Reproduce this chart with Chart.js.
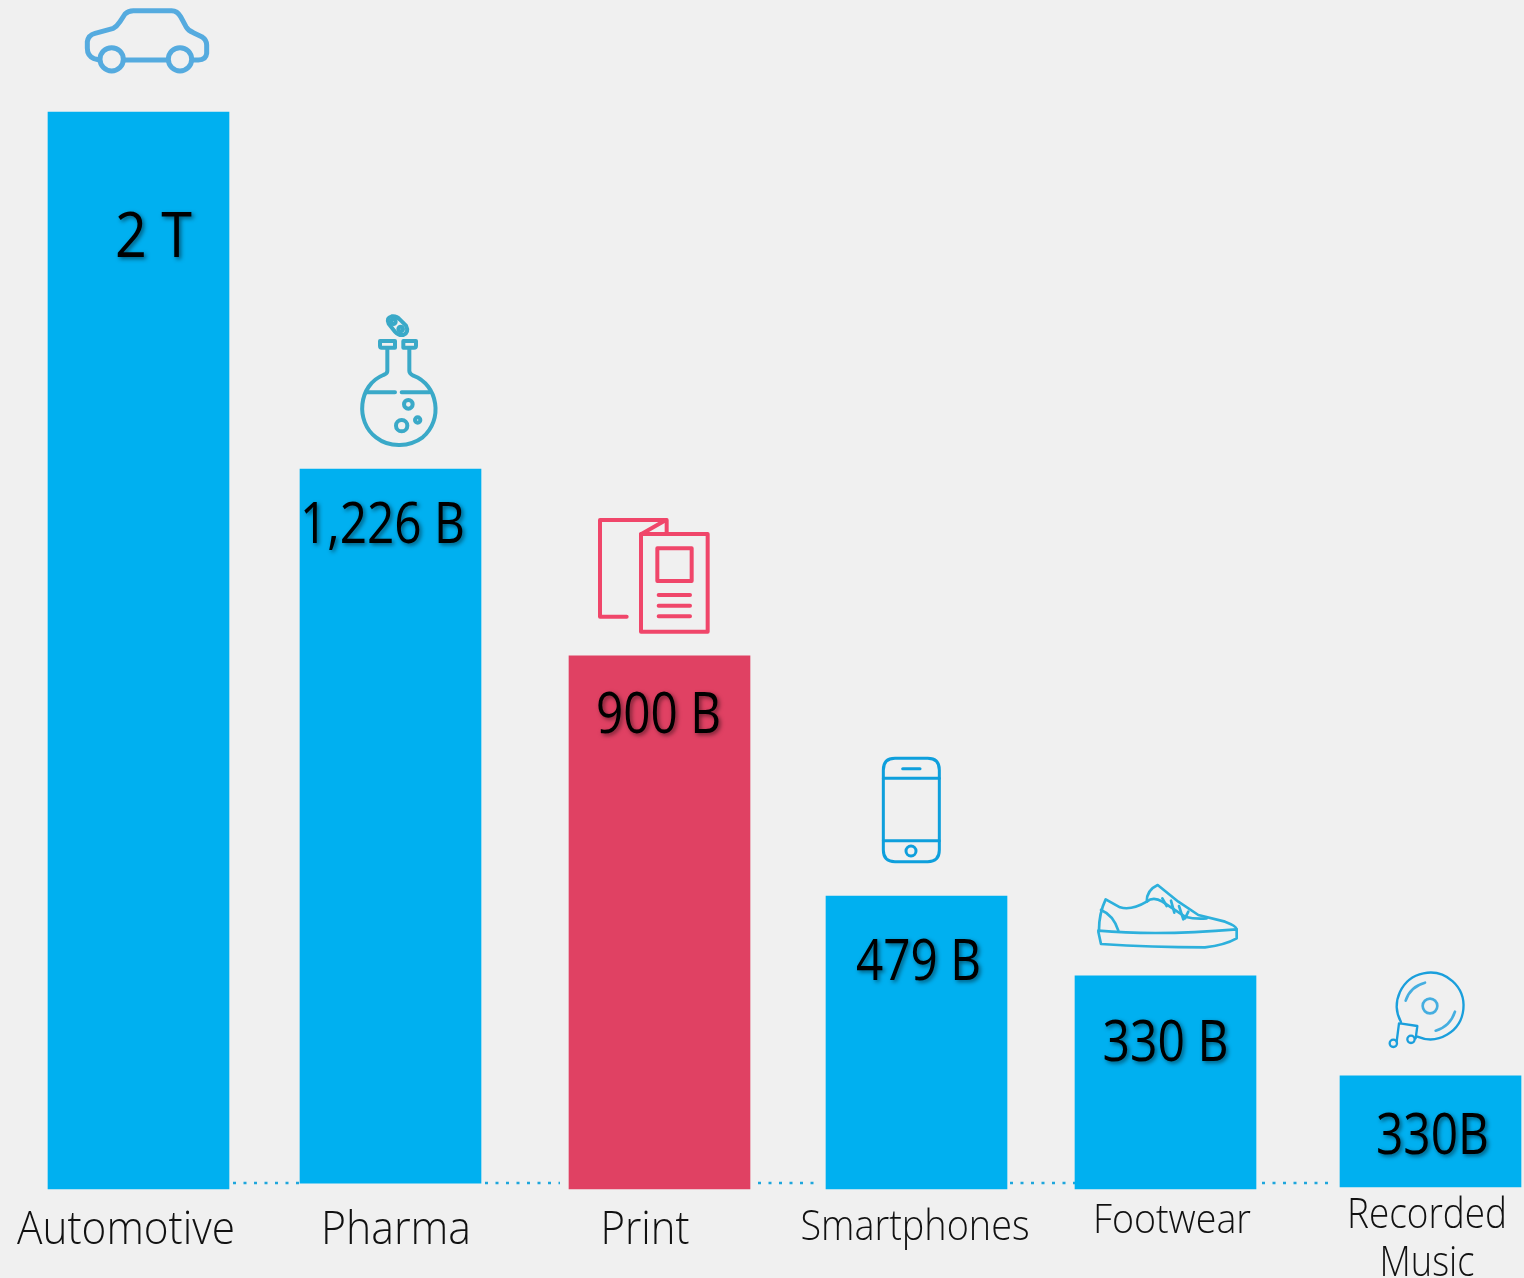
<!DOCTYPE html>
<html>
<head>
<meta charset="utf-8">
<style>
html,body{margin:0;padding:0;background:#f0f0f0;overflow:hidden}
canvas{display:block;position:absolute;left:0;top:0}
</style>
<script src="https://cdn.jsdelivr.net/npm/chart.js@4"></script>
</head>
<body>
<canvas id="c" width="1524" height="1278"></canvas>
<script>
// ---- data ----
const categories = ['Automotive','Pharma','Print','Smartphones','Footwear',['Recorded','Music']];
const barTops    = [2000,1337,990,544,396,210];
const barBases   = [0,11,0,0,0,4];
const valueLabels = ['2 T','1,226 B','900 B','479 B','330 B','330B'];
const connectorLevels = [11,11,11,11,11,11];

// ---- layout and style, separate from the data ----
const BLUE='#00b0f0', RED='#e04163';
const barColors=[BLUE,BLUE,RED,BLUE,BLUE,BLUE];
const barNudge=[0,-6.4,4.2,2.8,-6.6,0];
const FONT='"Open Sans"';
const BAR_W=181;
// how far the dotted connector stops short of each bar: left side, right side
const connectorGap=[[0,0],[0,3],[9,2],[8,3],[0,2],[8,0]];
// dx from bar centre, dy from bar top, width, font size
const valueStyle=[[15,145,77,62],[-8,74,165,56],[-1,77,125,56],[2,84,125,56],[0,85,126,56],[2,78,113,56]];
// text centre, baseline, width, font size
const labelStyle=[
 [[126,1244,218,46]],[[396,1244,150,46]],[[645,1244,89,46]],
 [[915,1240,229,43]],[[1172,1233,158,41]],
 [[1427,1228,160,43],[1427,1276,95,43]]];

function icon(ctx,ox,oy,color,lw,paths,blur){
  ctx.save();
  if(blur) ctx.filter=`blur(${blur}px)`;
  ctx.translate(ox,oy);ctx.scale(1/3,1/3);
  ctx.strokeStyle=color;ctx.lineWidth=lw;ctx.lineCap='round';ctx.lineJoin='round';
  paths.forEach(p=>ctx.stroke(new Path2D(p)));
  ctx.restore();
}
function circ(x,y,r){return `M ${x+r} ${y} A ${r} ${r} 0 1 1 ${x-r} ${y} A ${r} ${r} 0 1 1 ${x+r} ${y} Z`;}

const decor={
 id:'decor',
 afterDatasetsUpdate(chart){
   const meta=chart.getDatasetMeta(1);
   meta.data.forEach((el,i)=>{el.x=chart.scales.x.getPixelForValue(i)+barNudge[i];});
 },
 beforeDatasetDraw(chart,args){
   if(args.index!==0) return;
   const ctx=chart.ctx, bars=chart.getDatasetMeta(1).data;
   ctx.save();
   ctx.beginPath();
   ctx.rect(0,0,chart.width,chart.height);
   bars.forEach((el,i)=>{
     const l=el.x-BAR_W/2-connectorGap[i][0], r=el.x+BAR_W/2+connectorGap[i][1];
     ctx.rect(l,0,r-l,chart.height);
   });
   ctx.clip('evenodd');
 },
 afterDatasetDraw(chart,args){
   if(args.index===0) chart.ctx.restore();
 },
 afterDatasetsDraw(chart){
   const ctx=chart.ctx, bars=chart.getDatasetMeta(1).data;
   ctx.save();
   ctx.textAlign='center';ctx.textBaseline='alphabetic';
   // values
   ctx.save();
   ctx.fillStyle='#000';ctx.shadowColor='rgba(0,0,0,.5)';ctx.shadowBlur=4;ctx.shadowOffsetX=2;ctx.shadowOffsetY=2;
   valueLabels.forEach((t,i)=>{
     const s=valueStyle[i];
     ctx.font=`400 ${s[3]}px ${FONT}`;
     ctx.fillText(t,bars[i].x+s[0],bars[i].y+s[1],s[2]);
   });
   ctx.restore();
   // categories
   ctx.fillStyle='#111';
   categories.forEach((c,i)=>{
     [].concat(c).forEach((t,j)=>{
       const s=labelStyle[i][j];
       ctx.font=`300 ${s[3]}px ${FONT}`;
       ctx.fillText(t,s[0],s[1],s[2]);
     });
   });
   ctx.restore();
   // icons
   icon(ctx,60,0,'#55abdf',15,[
     'M 118 180 L 102 176 Q 82 168 82 145 L 82 125 Q 85 105 105 100 L 160 85 Q 170 80 180 65 L 195 42 Q 205 32 220 32 L 335 32 Q 352 32 362 50 L 378 80 Q 385 92 400 98 L 425 110 Q 440 120 440 135 L 440 160 Q 438 180 415 180 L 400 180',
     'M 195 180 L 322 180',circ(155,178,35),circ(360,178,35)],0.7);
   icon(ctx,340,305,'#3aa9c8',12,[
     'M 120 108 L 165 108 L 165 128 L 125 128 Q 120 128 120 122 Z M 190 108 L 228 108 L 228 122 Q 228 128 222 128 L 190 128 Z',
     'M 142 130 L 142 198 Q 142 206 130 210 C 55 240 45 350 108 397 C 150 430 210 425 248 397 C 310 345 295 240 220 212 Q 208 206 208 198 L 208 130',
     'M 80 262 L 165 262 M 185 262 L 268 262',
     'M 146 56 Q 138 38 155 34 Q 170 32 180 44 L 198 62 Q 208 82 190 90 Q 175 92 165 80 Z',
     circ(160,50,7),circ(182,72,7),circ(205,298,13),circ(185,362,17),circ(233,345,8)],0.6);
   icon(ctx,580,505,'#f0466a',12,[
     'M 140 335 L 60 335 L 60 45 L 260 45 L 260 85',
     'M 258 45 L 183 88',
     'M 183 87 L 383 87 L 383 380 L 183 380 Z',
     'M 232 130 L 335 130 L 335 228 L 232 228 Z',
     'M 236 270 L 330 270 M 236 302 L 330 302 M 236 334 L 330 334']);
   icon(ctx,860,745,'#0e9fdc',9,[
     'M 105 40 L 203 40 Q 238 40 238 75 L 238 315 Q 238 350 203 350 L 105 350 Q 70 350 70 315 L 70 75 Q 70 40 105 40 Z',
     'M 70 100 L 238 100 M 70 287 L 238 287','M 128 71 L 180 71',circ(153,318,15)]);
   icon(ctx,1085,870,'#2db0dc',8,[
     'M 42 180 Q 42 130 62 88 L 105 112 Q 140 122 185 95 Q 185 60 218 45 L 280 95 L 340 135 L 420 155 Q 455 168 455 178',
     'M 40 182 Q 220 198 455 178 M 40 185 L 48 222 Q 200 232 360 232 Q 420 225 455 205 L 455 178',
     'M 48 120 Q 85 135 100 182',
     'M 185 95 Q 205 78 232 95 L 300 140 Q 330 148 365 145',
     'M 232 85 L 245 108 M 258 92 L 268 128 M 282 108 L 295 148 M 310 125 L 300 145'],0.5);
   icon(ctx,1375,960,'#1a9fdc',7,[
     'M 78 186 A 100 100 0 1 1 127 230',
     'M 72 190 L 65 245 M 75 190 L 127 198 L 122 235',
     circ(55,250,11),circ(108,238,11)]);
   icon(ctx,1375,960,'#45aee0',8,[
     circ(165,138,22),'M 92 122 Q 105 80 150 68','M 182 212 Q 225 200 240 155'],0.5);
 }
};

new Chart(document.getElementById('c'),{
 type:'bar',
 data:{
  labels:categories,
  datasets:[
   {type:'line',data:connectorLevels,borderColor:'#1ea6dc',borderWidth:2.5,borderDash:[3,7.5],
    pointRadius:0,fill:false,order:2,clip:false},
   {type:'bar',data:barTops.map((t,i)=>[barBases[i],t]),backgroundColor:barColors,
    barThickness:BAR_W,borderWidth:0,borderSkipped:false,order:1,clip:false}
  ]
 },
 options:{
  responsive:false,animation:false,
  layout:{padding:{left:138.5,right:93.5,top:0,bottom:89}},
  plugins:{legend:{display:false},tooltip:{enabled:false},title:{display:false}},
  scales:{
   x:{type:'category',offset:false,display:false,grid:{display:false}},
   y:{type:'linear',min:0,max:2208,display:false,grid:{display:false}}
  }
 },
 plugins:[decor]
});
</script>
</body>
</html>
